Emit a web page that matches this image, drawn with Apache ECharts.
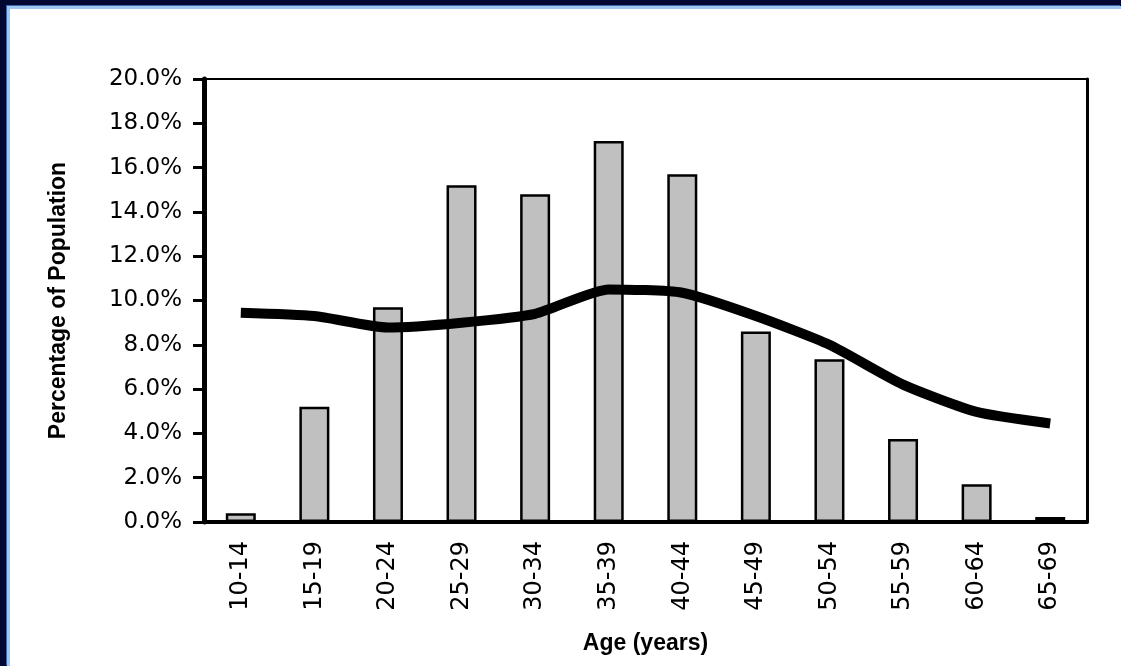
<!DOCTYPE html>
<html>
<head>
<meta charset="utf-8">
<script src="https://cdn.jsdelivr.net/npm/echarts@6/dist/echarts.min.js"></script>
<style>
  html, body { margin: 0; padding: 0; width: 1121px; height: 666px; overflow: hidden; background: #030833; }
  #panel { position: absolute; left: 7px; top: 6px; right: 0; bottom: 0; background: #ffffff;
           border-left: 3px solid #9ec6ee; border-top: 3px solid #9ec6ee; box-shadow: -1px -1px 0 #3a66b0; }
  #chart { position: absolute; left: 0; top: 0; width: 1121px; height: 666px; }
</style>
</head>
<body>
<div id="panel"></div>
<div id="chart"></div>
<script>
const categories = ['10-14','15-19','20-24','25-29','30-34','35-39','40-44','45-49','50-54','55-59','60-64','65-69'];
const barValues = [0.4, 5.2, 9.7, 15.2, 14.8, 17.2, 15.7, 8.6, 7.35, 3.75, 1.7, 0.23];
const lineValues = [9.45, 9.3, 8.78, 9.0, 9.4, 10.5, 10.35, 9.3, 8.0, 6.2, 4.97, 4.45];
const yMin = 0, yMax = 20, yStep = 2;
const xTitle = 'Age (years)';
const yTitle = 'Percentage of Population';

const chart = echarts.init(document.getElementById('chart'), null, { renderer: 'canvas' });
chart.setOption({
  backgroundColor: 'transparent',
  animation: false,
  grid: { left: 204, top: 79, right: 34, bottom: 144, containLabel: false },
  xAxis: [{
    type: 'category',
    data: categories,
    boundaryGap: true,
    axisLine: { show: true, lineStyle: { color: '#000', width: 4 } },
    axisTick: { show: false },
    axisLabel: { rotate: 90, margin: 19, fontFamily: 'DejaVu Sans', fontSize: 24, color: '#000' },
    name: xTitle,
    nameLocation: 'middle',
    nameGap: 110,
    nameTextStyle: { fontFamily: 'Liberation Sans', fontWeight: 'bold', fontSize: 23, color: '#000' }
  }, {
    type: 'category',
    data: categories,
    position: 'top',
    axisLine: { show: true, onZero: false, lineStyle: { color: '#000', width: 2 } },
    axisTick: { show: false },
    axisLabel: { show: false }
  }],
  yAxis: [{
    type: 'value',
    min: yMin, max: yMax, interval: yStep,
    axisLine: { show: true, lineStyle: { color: '#000', width: 5 } },
    axisTick: { show: true, inside: false, length: 11, lineStyle: { color: '#000', width: 3 } },
    splitLine: { show: false },
    axisLabel: { margin: 22, fontFamily: 'DejaVu Sans', fontSize: 23, color: '#000',
                 formatter: v => v.toFixed(1) + '%' },
    name: yTitle,
    nameLocation: 'middle',
    nameRotate: 90,
    nameGap: 134,
    nameTextStyle: { fontFamily: 'Liberation Sans', fontWeight: 'bold', fontSize: 23, color: '#000' }
  }, {
    type: 'value',
    min: yMin, max: yMax, interval: yStep,
    position: 'right',
    axisLine: { show: true, onZero: false, lineStyle: { color: '#000', width: 3 } },
    axisTick: { show: false },
    axisLabel: { show: false },
    splitLine: { show: false }
  }],
  series: [{
    type: 'bar',
    data: barValues,
    barWidth: 30,
    itemStyle: { color: '#c0c0c0', borderColor: '#000', borderWidth: 2.5 },
    z: 2
  }, {
    type: 'line',
    data: lineValues,
    smooth: 0.2,
    showSymbol: false,
    symbol: 'none',
    lineStyle: { color: '#000', width: 10, cap: 'butt', join: 'round' },
    z: 3
  }]
});
</script>
</body>
</html>
